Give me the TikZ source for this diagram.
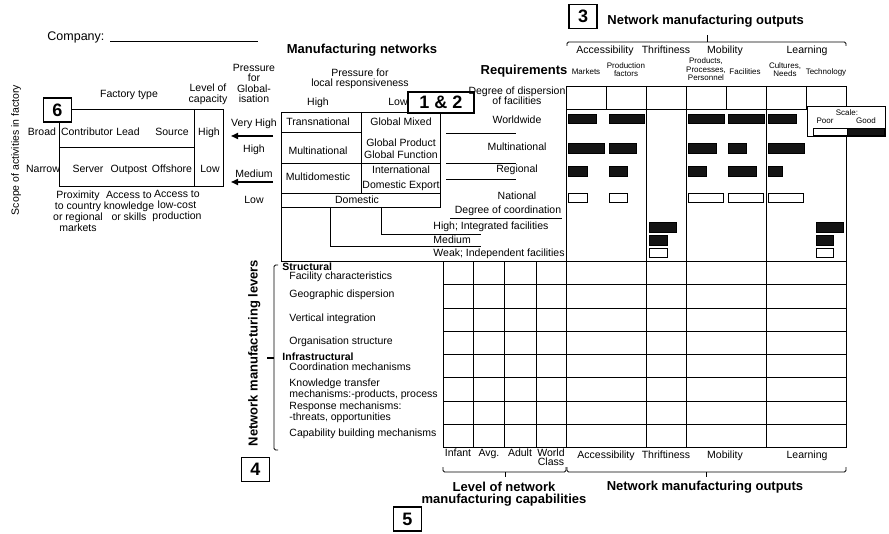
\documentclass[tikz,border=0pt]{standalone}
\usepackage{fontspec}
\setmainfont{Liberation Sans}
\usetikzlibrary{arrows.meta, positioning}

\tikzstyle{txt} = [inner sep=0pt, align=center,
font=\fontsize{10.5}{11}\selectfont]
\tikzstyle{lbl} = [txt, text height=7.6pt, text depth=0pt]
\tikzstyle{tiny} = [inner sep=0pt, align=center,
font=\fontsize{8}{8.6}\selectfont]
\tikzstyle{tinylbl} = [tiny, text height=5.8pt, text depth=0pt]
\tikzstyle{heading} = [inner sep=0pt, align=center,
font=\bfseries\fontsize{13}{11.5}\selectfont]
\tikzstyle{headlbl} = [heading, text height=9.4pt, text depth=0pt]
\tikzstyle{numbox} = [rectangle,
draw=black, line width=1.6pt, fill=white,
inner sep=0pt,
minimum width=28pt,
minimum height=24pt,
font=\bfseries\fontsize{18}{18}\selectfont]
\tikzstyle{fullbar} = [draw=black, fill=black!92, line width=0.6pt]
\tikzstyle{emptybar} = [draw=black, fill=white, line width=0.9pt]
\tikzstyle{arrow} = [line width=1.6pt, -{Triangle[length=7pt, width=6pt]}]

\begin{document}
\begin{tikzpicture}[x=1pt, y=-1pt, line width=0.9pt]
\useasboundingbox (0,0) rectangle (889,534);

% company
\node (company) [txt, font=\fontsize{12.5}{13}\selectfont, anchor=base west] at (47,41) {Company:};
\coordinate (cline1) at (110,41.5);
\coordinate (cline2) at (258,41.5);
\draw[line width=0.7pt] (cline1) -- (cline2);

% 6: factory types
\draw (59,109) rectangle (223,186);
\draw (194,109) -- (194,186);
\draw (59,147) -- (194,147);
\node (six) [numbox] at (57.5,110) {6};
\node (ftype) [lbl] at (129,94) {Factory type};
\node (capacity) [txt] at (208,94) {Level of\\capacity};
\node (pglob) [txt, font=\fontsize{10.5}{10.3}\selectfont] at (254,83.5) {Pressure\\for\\Global-\\isation};
\node (broad) [lbl] at (42,132) {Broad};
\node (contrib) [lbl] at (87,132) {Contributor};
\node (lead) [lbl] at (128,132) {Lead};
\node (source) [lbl] at (172,132) {Source};
\node (capH) [lbl] at (209,132) {High};
\node (narrow) [lbl] at (43,169) {Narrow};
\node (server) [lbl] at (88,169) {Server};
\node (outpost) [lbl] at (129,169) {Outpost};
\node (offshore) [lbl] at (172,169) {Offshore};
\node (capL) [lbl] at (210,169) {Low};
\node (prox) [txt] at (78,211) {Proximity\\to country\\or regional\\markets};
\node (knowl) [txt] at (129,205.5) {Access to\\knowledge\\or skills};
\node (lowcost) [txt] at (177,205.5) {Access to\\low-cost\\production};
\node (scope) [lbl, rotate=90] at (15,150) {Scope of activities in factory};

% pressure for globalisation
\node (pvh) [lbl] at (254,123) {Very High};
\node (ph) [lbl] at (254,149) {High};
\node (pm) [lbl] at (254,174) {Medium};
\node (pl) [lbl] at (254,200) {Low};
\coordinate (a1s) at (273,136);
\coordinate (a1e) at (231,136);
\coordinate (a2s) at (273,182);
\coordinate (a2e) at (231,182);
\draw[arrow] (a1s) -- (a1e);
\draw[arrow] (a2s) -- (a2e);

% 1 & 2: manufacturing networks
\node (mnet) [headlbl] at (362,49) {Manufacturing networks};
\node (ploc) [txt, font=\fontsize{10.5}{9.5}\selectfont] at (360,79) {Pressure for\\local responsiveness};
\node (plH) [lbl] at (318,102) {High};
\node (plL) [lbl] at (398,102) {Low};
\draw (281,112) rectangle (440,207);
\draw (361,112) -- (361,193);
\draw (281,132) -- (361,132);
\draw (281,163) -- (440,163);
\draw (281,193) -- (440,193);
\node (transn) [lbl] at (318,122) {Transnational};
\node (gmixed) [lbl] at (401,122) {Global Mixed};
\node (multin) [lbl] at (318,151) {Multinational};
\node (gprod) [txt] at (401,148.5) {Global Product\\[1.5pt]Global Function};
\node (multid) [lbl] at (318,177) {Multidomestic};
\node (intl) [txt] at (401,178) {International\\[4pt]Domestic Export};
\node (domestic) [lbl] at (357,200) {Domestic};
\node (onetwo) [numbox, minimum width=66pt, minimum height=21pt] at (441,102.5) {1 \& 2};

% requirements
\node (req) [headlbl] at (524,70) {Requirements};
\node (disp) [txt, font=\fontsize{10.5}{10}\selectfont] at (517,95.5) {Degree of dispersion\\of facilities};
\node (world) [lbl] at (517,120) {Worldwide};
\node (multi) [lbl] at (517,147) {Multinational};
\node (regio) [lbl] at (517,169) {Regional};
\node (natio) [lbl] at (517,196) {National};
\draw (446,133) -- (516,133);
\draw (446,163) -- (516,163);
\draw (446,179) -- (516,179);
\node (coord) [lbl] at (508,210) {Degree of coordination};
\draw (450,218) -- (562,218);
\node (chigh) [lbl, anchor=west] at (433,226) {High; Integrated facilities};
\node (cmed) [lbl, anchor=west] at (433,240) {Medium};
\node (cweak) [lbl, anchor=west] at (433,253) {Weak; Independent facilities};
\draw (381,207) -- (381,234) -- (481,234);
\draw (330,207) -- (330,246) -- (481,246);
\draw (281,207) -- (281,261.5) -- (566,261.5);

% 3: network manufacturing outputs
\node (three) [numbox] at (583,16.5) {3};
\node (nmo) [headlbl, anchor=west] at (607,20) {Network manufacturing outputs};
\draw[rounded corners=1.5pt] (567,46) -- (567,42) -- (846,42) -- (846,46);
\draw (707,42) -- (707,35);
\node (hacc) [lbl] at (605,50) {Accessibility};
\node (hthr) [lbl] at (666,50) {Thriftiness};
\node (hmob) [lbl] at (725,50) {Mobility};
\node (hlea) [lbl] at (807,50) {Learning};
\node (smark) [tinylbl] at (586,72) {Markets};
\node (sprod) [tiny] at (626,69.5) {Production\\factors};
\node (sppp) [tiny] at (706,69.5) {Products,\\Processes,\\Personnel};
\node (sfac) [tinylbl] at (745,72) {Facilities};
\node (scult) [tiny] at (785,69.5) {Cultures,\\Needs};
\node (stech) [tinylbl] at (826,72) {Technology};

% grid
\draw (566,86) -- (846,86);
\draw (566,109.5) -- (846,109.5);
\foreach \x in {606,726,806}
  \draw (\x,86) -- (\x,109.5);
\foreach \x in {566,646,686,766,846}
  \draw (\x,86) -- (\x,447.5);
\foreach \x in {443,473,504,536}
  \draw (\x,261.5) -- (\x,447.5);
\foreach \k in {0,...,8}
  \draw ({443},{261.5+23.25*\k}) -- ({846},{261.5+23.25*\k});

% bars
\foreach \xa/\xb/\ya/\yb in {568/596/114/123, 609/644/114/123, 688/724/114/123, 728/764/114/123, 768/796/114/123,
  568/604/143/153, 609/636/143/153, 688/716/143/153, 728/746/143/153, 768/804/143/153,
  568/587/166/176, 609/627/166/176, 688/706/166/176, 728/756/166/176, 768/782/166/176,
  649/676/222/232, 649/667/235/245, 816/843/222/232, 816/833/235/245}
  \draw[fullbar] (\xa,\ya) rectangle (\xb,\yb);
\foreach \xa/\xb/\ya/\yb in {568/587/193/202, 609/627/193/202, 688/723/193/202, 728/763/193/202, 768/803/193/202,
  649/667/248/257, 816/833/248/257}
  \draw[emptybar] (\xa,\ya) rectangle (\xb,\yb);

% scale
\draw[fill=white] (807,106) rectangle (885,136);
\node (scale) [tinylbl] at (847,113) {Scale:};
\node (poor) [tinylbl] at (825,121) {Poor};
\node (good) [tinylbl] at (866,121) {Good};
\draw[emptybar] (813,128) rectangle (847,135);
\draw[fullbar] (847,128) rectangle (884,135);

% 4: levers
\node (levers) [headlbl, rotate=90] at (253,353) {Network manufacturing levers};
\draw[rounded corners=1.5pt] (278,265) -- (274,265) -- (274,450) -- (278,450);
\draw[line width=1.6pt] (274,358) -- (267,358);
\node (four) [numbox] at (255.5,469.5) {4};
\node (struct) [lbl, anchor=west, font=\bfseries\fontsize{10.5}{11}\selectfont] at (282,267) {Structural};
\node (lev1) [lbl, anchor=west] at (289,276) {Facility characteristics};
\node (lev2) [lbl, anchor=west] at (289,294) {Geographic dispersion};
\node (lev3) [lbl, anchor=west] at (289,318) {Vertical integration};
\node (lev4) [lbl, anchor=west] at (289,341) {Organisation structure};
\node (infra) [lbl, anchor=west, font=\bfseries\fontsize{10.5}{11}\selectfont] at (282,357) {Infrastructural};
\node (lev5) [lbl, anchor=west] at (289,367) {Coordination mechanisms};
\node (lev6) [txt, anchor=west, align=left, font=\fontsize{10.5}{8}\selectfont] at (289,389) {Knowledge transfer\\mechanisms:-products, process};
\node (lev7) [txt, anchor=west, align=left, font=\fontsize{10.5}{7}\selectfont] at (289,412) {Response mechanisms:\\-threats, opportunities};
\node (lev8) [lbl, anchor=west] at (289,433) {Capability building mechanisms};

% 5: levels and outputs
\node (infant) [lbl] at (458,453) {Infant};
\node (avg) [lbl] at (489,453) {Avg.};
\node (adult) [lbl] at (520,453) {Adult};
\node (wclass) [txt, font=\fontsize{10.5}{9}\selectfont] at (551,457.5) {World\\Class};
\node (bacc) [lbl] at (606,455) {Accessibility};
\node (bthr) [lbl] at (666,455) {Thriftiness};
\node (bmob) [lbl] at (725,455) {Mobility};
\node (blea) [lbl] at (807,455) {Learning};
\draw[rounded corners=1.5pt] (443,467) -- (443,472) -- (566,472) -- (566,467);
\draw (505,472) -- (505,477);
\draw[rounded corners=1.5pt] (567,467) -- (567,472) -- (846,472) -- (846,467);
\draw (706,472) -- (706,477);
\node (level) [heading] at (504,494) {Level of network\\manufacturing capabilities};
\node (nmob) [headlbl] at (705,486) {Network manufacturing outputs};
\node (five) [numbox] at (407.5,519) {5};
\end{tikzpicture}
\end{document}
